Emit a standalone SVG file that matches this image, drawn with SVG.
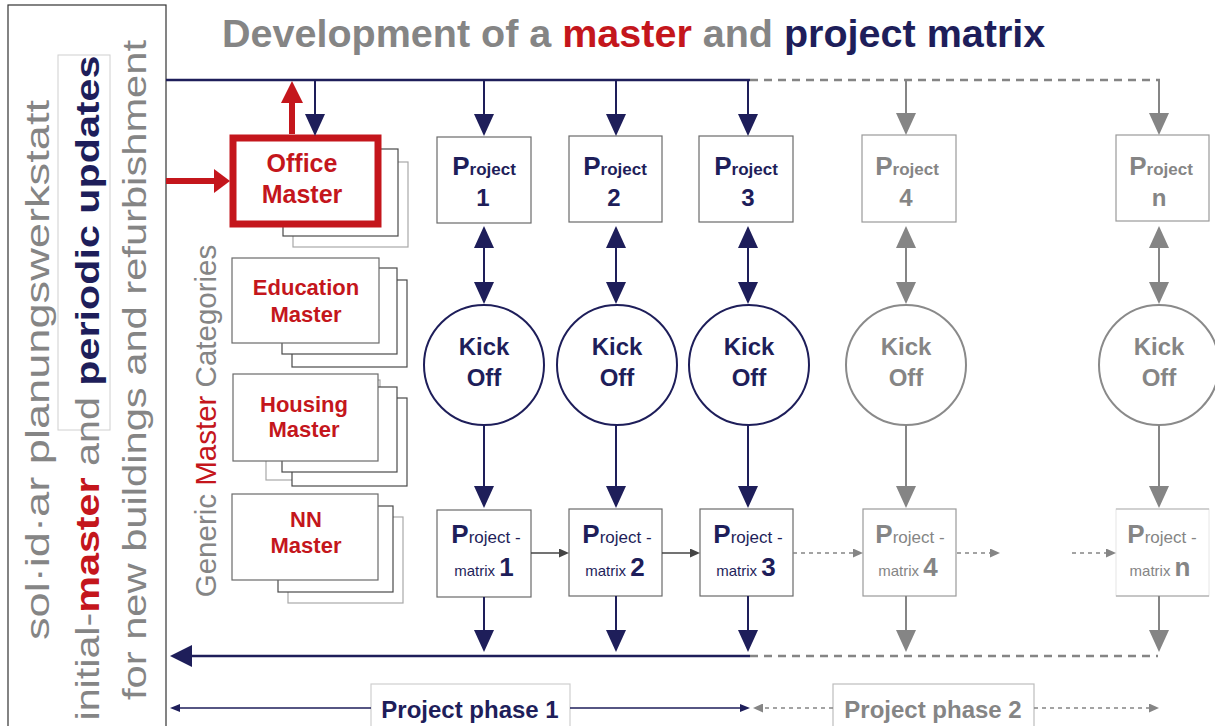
<svg xmlns="http://www.w3.org/2000/svg" width="1215" height="726" viewBox="0 0 1215 726">
<style>
text{font-family:"Liberation Sans",Arial,sans-serif}
.b{font-weight:bold}
.gray{fill:#858585}
.red{fill:#c4161c}
.navy{fill:#1e1e5a}
.box{fill:#fff;stroke:#6a6a6a;stroke-width:1.2}
.boxg{fill:#fff;stroke:#9a9a9a;stroke-width:1.2}
.sheet{fill:#fff;stroke:#4a4a4a;stroke-width:1.2}
.sheetl{fill:#fff;stroke:#a8a8a8;stroke-width:1.2}
.circ{fill:#fff;stroke:#1e1e5a;stroke-width:2}
.circg{fill:#fff;stroke:#8a8a8a;stroke-width:2}
.ln{stroke:#1e1e5a;stroke-width:2.5;fill:none}
.lnv{stroke:#1e1e5a;stroke-width:2;fill:none}
.lg{stroke:#858585;stroke-width:2;fill:none}
.ld{stroke:#858585;stroke-width:2.5;fill:none;stroke-dasharray:8 6}
.ls{stroke:#444;stroke-width:1.5;fill:none}
.lsd{stroke:#858585;stroke-width:1.5;fill:none;stroke-dasharray:4 4}
.lph{stroke:#1e1e5a;stroke-width:1.5;fill:none}
.lphd{stroke:#858585;stroke-width:1.5;fill:none;stroke-dasharray:4 4}
.lr{stroke:#c4161c;stroke-width:6;fill:none}
</style>
<defs>
<marker id="mN" markerUnits="userSpaceOnUse" viewBox="0 0 22 20" markerWidth="22" markerHeight="20" refX="0" refY="10" orient="auto-start-reverse"><path d="M0,0 L22,10 L0,20 z" fill="#1e1e5a"/></marker>
<marker id="mG" markerUnits="userSpaceOnUse" viewBox="0 0 22 20" markerWidth="22" markerHeight="20" refX="0" refY="10" orient="auto-start-reverse"><path d="M0,0 L22,10 L0,20 z" fill="#858585"/></marker>
<marker id="mR" markerUnits="userSpaceOnUse" viewBox="0 0 22 22" markerWidth="22" markerHeight="22" refX="0" refY="11" orient="auto"><path d="M0,0 L22,11 L0,22 z" fill="#c4161c"/></marker>
<marker id="mRs" markerUnits="userSpaceOnUse" viewBox="0 0 16 24" markerWidth="16" markerHeight="24" refX="0" refY="12" orient="auto"><path d="M0,0 L16,12 L0,24 z" fill="#c4161c"/></marker>
<marker id="mL" markerUnits="userSpaceOnUse" viewBox="0 0 22 22" markerWidth="22" markerHeight="22" refX="0" refY="11" orient="auto"><path d="M0,0 L22,11 L0,22 z" fill="#1e1e5a"/></marker>
<marker id="mS" markerUnits="userSpaceOnUse" viewBox="0 0 10 9" markerWidth="10" markerHeight="9" refX="0" refY="4.5" orient="auto"><path d="M0,0 L10,4.5 L0,9 z" fill="#444"/></marker>
<marker id="mSg" markerUnits="userSpaceOnUse" viewBox="0 0 10 9" markerWidth="10" markerHeight="9" refX="0" refY="4.5" orient="auto"><path d="M0,0 L10,4.5 L0,9 z" fill="#858585"/></marker>
<marker id="mSn" markerUnits="userSpaceOnUse" viewBox="0 0 10 8" markerWidth="10" markerHeight="8" refX="0" refY="4" orient="auto"><path d="M0,0 L10,4 L0,8 z" fill="#1e1e5a"/></marker>
</defs>
<rect width="1215" height="726" fill="#fff"/>

<g id="title">
<text x="222" y="47" font-size="39.5" class="b"><tspan class="gray">Development of a </tspan><tspan class="red">master</tspan><tspan class="gray"> and </tspan><tspan class="navy">project matrix</tspan></text>
</g>

<g id="side-panel">
<rect x="8" y="5" width="158" height="740" fill="#fff" stroke="#333" stroke-width="1.2"/>
<rect x="58" y="55" width="52" height="375" fill="none" stroke="#d0d0d0" stroke-width="1"/>
<text transform="translate(49,370) rotate(-90)" text-anchor="middle" font-size="34" class="gray" textLength="540" lengthAdjust="spacingAndGlyphs">sol·id·ar planungswerkstatt</text>
<text transform="translate(99,388) rotate(-90)" text-anchor="middle" font-size="34" textLength="665" lengthAdjust="spacingAndGlyphs"><tspan class="gray">initial-</tspan><tspan class="red b">master</tspan><tspan class="gray"> and </tspan><tspan class="navy b">periodic updates</tspan></text>
<text transform="translate(146,370) rotate(-90)" text-anchor="middle" font-size="34" class="gray" textLength="660" lengthAdjust="spacingAndGlyphs">for new buildings and refurbishment</text>
</g>

<g id="generic-master-categories">
<text transform="translate(216,421) rotate(-90)" text-anchor="middle" font-size="29.5"><tspan class="gray">Generic </tspan><tspan class="red">Master</tspan><tspan class="gray"> Categories</tspan></text>
</g>

<g id="office-master">
<rect x="293" y="162" width="115" height="85" class="sheetl"/>
<rect x="283" y="149" width="115" height="87" class="sheet"/>
<rect x="233" y="138" width="145" height="86" fill="#fff" stroke="#c4161c" stroke-width="7"/>
<text x="302" y="172" font-size="25" text-anchor="middle" class="b red">Office</text>
<text x="302" y="203" font-size="25" text-anchor="middle" class="b red">Master</text>
</g>

<g id="education-master">
<rect x="292" y="280" width="115" height="87" class="sheet"/>
<rect x="282" y="268" width="115" height="86" class="sheet"/>
<rect x="232" y="258" width="147" height="85" class="box"/>
<text x="306" y="295" font-size="22" text-anchor="middle" class="b red">Education</text>
<text x="306" y="322" font-size="22" text-anchor="middle" class="b red">Master</text>
</g>

<g id="housing-master">
<rect x="266" y="380" width="114" height="100" class="sheetl"/>
<rect x="292" y="398" width="115" height="88" class="sheet"/>
<rect x="282" y="387" width="115" height="85" class="sheet"/>
<rect x="233" y="374" width="145" height="87" class="box"/>
<text x="304" y="412" font-size="22" text-anchor="middle" class="b red">Housing</text>
<text x="304" y="437" font-size="22" text-anchor="middle" class="b red">Master</text>
</g>

<g id="nn-master">
<rect x="288" y="517" width="115" height="86" class="sheetl"/>
<rect x="278" y="506" width="115" height="86" class="sheet"/>
<rect x="232" y="494" width="146" height="86" class="box"/>
<text x="306" y="527" font-size="22" text-anchor="middle" class="b red">NN</text>
<text x="306" y="553" font-size="22" text-anchor="middle" class="b red">Master</text>
</g>

<g id="project-1"><rect x="437" y="137" width="94" height="86" class="box"/>
<text x="484" y="175" text-anchor="middle" class="b navy"><tspan font-size="26">P</tspan><tspan font-size="17">roject</tspan></text>
<text x="483" y="206" text-anchor="middle" font-size="24" class="b navy">1</text></g>
<g id="project-2"><rect x="569" y="136" width="93" height="86" class="box"/>
<text x="615" y="175" text-anchor="middle" class="b navy"><tspan font-size="26">P</tspan><tspan font-size="17">roject</tspan></text>
<text x="614" y="206" text-anchor="middle" font-size="24" class="b navy">2</text></g>
<g id="project-3"><rect x="699" y="136" width="94" height="86" class="box"/>
<text x="746" y="175" text-anchor="middle" class="b navy"><tspan font-size="26">P</tspan><tspan font-size="17">roject</tspan></text>
<text x="748" y="206" text-anchor="middle" font-size="24" class="b navy">3</text></g>
<g id="project-4"><rect x="862" y="135" width="94" height="87" class="boxg"/>
<text x="907" y="175" text-anchor="middle" class="b gray"><tspan font-size="26">P</tspan><tspan font-size="17">roject</tspan></text>
<text x="906" y="206" text-anchor="middle" font-size="24" class="b gray">4</text></g>
<g id="project-n"><rect x="1116" y="135" width="93" height="86" class="boxg"/>
<text x="1161" y="175" text-anchor="middle" class="b gray"><tspan font-size="26">P</tspan><tspan font-size="17">roject</tspan></text>
<text x="1159" y="206" text-anchor="middle" font-size="24" class="b gray">n</text></g>

<g id="kickoff-1"><circle cx="484" cy="365" r="60" class="circ"/>
<text x="484" y="355" text-anchor="middle" font-size="24" class="b navy">Kick</text>
<text x="484" y="386" text-anchor="middle" font-size="24" class="b navy">Off</text></g>
<g id="kickoff-2"><circle cx="617" cy="365" r="60" class="circ"/>
<text x="617" y="355" text-anchor="middle" font-size="24" class="b navy">Kick</text>
<text x="617" y="386" text-anchor="middle" font-size="24" class="b navy">Off</text></g>
<g id="kickoff-3"><circle cx="749" cy="365" r="60" class="circ"/>
<text x="749" y="355" text-anchor="middle" font-size="24" class="b navy">Kick</text>
<text x="749" y="386" text-anchor="middle" font-size="24" class="b navy">Off</text></g>
<g id="kickoff-4"><circle cx="906" cy="365" r="60" class="circg"/>
<text x="906" y="355" text-anchor="middle" font-size="24" class="b gray">Kick</text>
<text x="906" y="386" text-anchor="middle" font-size="24" class="b gray">Off</text></g>
<g id="kickoff-n"><circle cx="1159" cy="365" r="60" class="circg"/>
<text x="1159" y="355" text-anchor="middle" font-size="24" class="b gray">Kick</text>
<text x="1159" y="386" text-anchor="middle" font-size="24" class="b gray">Off</text></g>

<g id="pmatrix-1"><rect x="437" y="510" width="94" height="87" class="box"/>
<text x="486" y="543" text-anchor="middle" class="navy"><tspan font-size="26" class="b">P</tspan><tspan font-size="17">roject -</tspan></text>
<text x="484" y="576" text-anchor="middle" class="navy"><tspan font-size="15">matrix </tspan><tspan font-size="26" class="b">1</tspan></text></g>
<g id="pmatrix-2"><rect x="569" y="509" width="93" height="87" class="box"/>
<text x="617" y="543" text-anchor="middle" class="navy"><tspan font-size="26" class="b">P</tspan><tspan font-size="17">roject -</tspan></text>
<text x="615" y="576" text-anchor="middle" class="navy"><tspan font-size="15">matrix </tspan><tspan font-size="26" class="b">2</tspan></text></g>
<g id="pmatrix-3"><rect x="700" y="509" width="93" height="87" class="box"/>
<text x="748" y="543" text-anchor="middle" class="navy"><tspan font-size="26" class="b">P</tspan><tspan font-size="17">roject -</tspan></text>
<text x="746" y="576" text-anchor="middle" class="navy"><tspan font-size="15">matrix </tspan><tspan font-size="26" class="b">3</tspan></text></g>
<g id="pmatrix-4"><rect x="863" y="509" width="93" height="87" class="boxg"/>
<text x="910" y="543" text-anchor="middle" class="gray"><tspan font-size="26" class="b">P</tspan><tspan font-size="17">roject -</tspan></text>
<text x="908" y="576" text-anchor="middle" class="gray"><tspan font-size="15">matrix </tspan><tspan font-size="26" class="b">4</tspan></text></g>
<g id="pmatrix-n"><rect x="1116" y="509" width="93" height="87" fill="#fff" stroke="#e6e6e6" stroke-width="1"/>
<line x1="1116" y1="509" x2="1209" y2="509" stroke="#b0b0b0" stroke-width="1"/>
<line x1="1116" y1="596" x2="1209" y2="596" stroke="#9a9a9a" stroke-width="1.2"/>
<text x="1162" y="543" text-anchor="middle" class="gray"><tspan font-size="26" class="b">P</tspan><tspan font-size="17">roject -</tspan></text>
<text x="1160" y="576" text-anchor="middle" class="gray"><tspan font-size="15">matrix </tspan><tspan font-size="26" class="b">n</tspan></text></g>

<g id="phase-1"><rect x="371" y="684" width="199" height="60" fill="#fff" stroke="#cfcfcf" stroke-width="1.2"/>
<text x="470" y="718" text-anchor="middle" font-size="24" class="b navy">Project phase 1</text></g>
<g id="phase-2"><rect x="833" y="684" width="201" height="60" fill="#fff" stroke="#bdbdbd" stroke-width="1.2"/>
<text x="933" y="718" text-anchor="middle" font-size="24" class="b gray">Project phase 2</text></g>

<g id="connectors">
<line x1="166" y1="80" x2="750" y2="80" class="ln"/>
<line x1="750" y1="80" x2="1160" y2="80" class="ld"/>
<line x1="315" y1="80" x2="315" y2="114" class="lnv" marker-end="url(#mN)"/>
<line x1="292" y1="134" x2="292" y2="103" class="lr" marker-end="url(#mR)"/>
<line x1="166" y1="181" x2="214" y2="181" class="lr" marker-end="url(#mRs)"/>
<line x1="484" y1="80" x2="484" y2="114" class="lnv" marker-end="url(#mN)"/>
<line x1="616" y1="80" x2="616" y2="114" class="lnv" marker-end="url(#mN)"/>
<line x1="748" y1="80" x2="748" y2="114" class="lnv" marker-end="url(#mN)"/>
<line x1="906" y1="80" x2="906" y2="113" class="lg" marker-end="url(#mG)"/>
<line x1="1159" y1="80" x2="1159" y2="113" class="lg" marker-end="url(#mG)"/>
<line x1="484" y1="248" x2="484" y2="282" class="lnv" marker-start="url(#mN)" marker-end="url(#mN)"/>
<line x1="616" y1="248" x2="616" y2="282" class="lnv" marker-start="url(#mN)" marker-end="url(#mN)"/>
<line x1="748" y1="248" x2="748" y2="282" class="lnv" marker-start="url(#mN)" marker-end="url(#mN)"/>
<line x1="906" y1="248" x2="906" y2="282" class="lg" marker-start="url(#mG)" marker-end="url(#mG)"/>
<line x1="1159" y1="248" x2="1159" y2="282" class="lg" marker-start="url(#mG)" marker-end="url(#mG)"/>
<line x1="484" y1="425" x2="484" y2="486" class="lnv" marker-end="url(#mN)"/>
<line x1="616" y1="425" x2="616" y2="486" class="lnv" marker-end="url(#mN)"/>
<line x1="748" y1="425" x2="748" y2="486" class="lnv" marker-end="url(#mN)"/>
<line x1="906" y1="425" x2="906" y2="486" class="lg" marker-end="url(#mG)"/>
<line x1="1159" y1="425" x2="1159" y2="486" class="lg" marker-end="url(#mG)"/>
<line x1="531" y1="553" x2="559" y2="553" class="ls" marker-end="url(#mS)"/>
<line x1="662" y1="553" x2="690" y2="553" class="ls" marker-end="url(#mS)"/>
<line x1="793" y1="553" x2="853" y2="553" class="lsd" marker-end="url(#mSg)"/>
<line x1="957" y1="553" x2="990" y2="553" class="lsd" marker-end="url(#mSg)"/>
<line x1="1072" y1="553" x2="1106" y2="553" class="lsd" marker-end="url(#mSg)"/>
<line x1="484" y1="597" x2="484" y2="630" class="lnv" marker-end="url(#mN)"/>
<line x1="616" y1="596" x2="616" y2="630" class="lnv" marker-end="url(#mN)"/>
<line x1="748" y1="596" x2="748" y2="630" class="lnv" marker-end="url(#mN)"/>
<line x1="906" y1="596" x2="906" y2="630" class="lg" marker-end="url(#mG)"/>
<line x1="1159" y1="596" x2="1159" y2="630" class="lg" marker-end="url(#mG)"/>
<line x1="750" y1="656" x2="192" y2="656" class="ln" marker-end="url(#mL)"/>
<line x1="750" y1="656" x2="1158" y2="656" class="ld"/>
<line x1="371" y1="708" x2="180" y2="708" class="lph" marker-end="url(#mSn)"/>
<line x1="570" y1="708" x2="740" y2="708" class="lph" marker-end="url(#mSn)"/>
<line x1="833" y1="708" x2="763" y2="708" class="lphd" marker-end="url(#mSg)"/>
<line x1="1034" y1="708" x2="1149" y2="708" class="lphd" marker-end="url(#mSg)"/>
</g>
</svg>
